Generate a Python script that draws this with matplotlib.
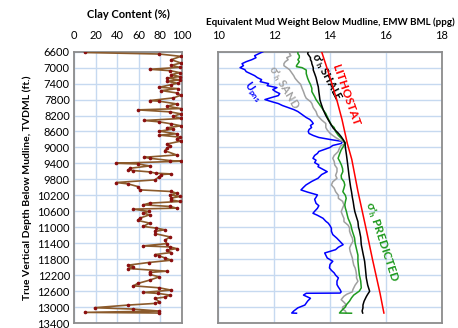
import matplotlib
matplotlib.use("Agg")
import matplotlib.pyplot as plt
import numpy as np

plt.rcParams['font.family'] = ['Lato', 'DejaVu Sans']
plt.rcParams['mathtext.default'] = 'regular'

# ---------------- data ----------------
clay_depth = [6620, 6658, 6717, 6800, 6883, 6942, 6992, 7041, 7075, 7125, 7175, 7225, 7258, 7308,
              7341, 7391, 7425, 7491, 7525, 7575, 7633, 7691, 7758, 7825, 7841, 7908, 7966, 8025,
              8058, 8108, 8158, 8216, 8274, 8324, 8358, 8408, 8458, 8508, 8541, 8591, 8658, 8691,
              8741, 8791, 8841, 8913, 8955, 9021, 9080, 9188, 9246, 9271, 9329, 9346, 9396, 9413,
              9463, 9521, 9563, 9579, 9613, 9646, 9663, 9679, 9729, 9813, 9879, 9913, 9979, 10063,
              10104, 10146, 10188, 10229, 10271, 10313, 10354, 10396, 10438, 10479, 10521, 10546,
              10604, 10646, 10688, 10771, 10829, 10896, 10979, 11021, 11063, 11104, 11160, 11243,
              11326, 11410, 11468, 11493, 11535, 11576, 11634, 11684, 11718, 11768, 11826, 11884,
              11951, 11984, 12034, 12101, 12134, 12184, 12243, 12326, 12409, 12468, 12518, 12576,
              12634, 12659, 12701, 12751, 12784, 12867, 12909, 12951, 13017, 13051, 13101, 13134, 13150]
clay_pct = [10, 79, 99, 90, 99, 90, 98, 70, 89, 98, 90, 98, 86, 98,
            86, 96, 90, 79, 96, 81, 95, 99, 92, 70, 79, 95, 86, 99,
            59, 89, 99, 92, 99, 65, 79, 90, 99, 86, 92, 79, 95, 79,
            98, 95, 99, 86, 89, 86, 84, 95, 65, 70, 89, 99, 39, 59,
            70, 52, 50, 55, 70, 76, 90, 81, 79, 75, 39, 50, 59, 61,
            90, 95, 89, 98, 90, 90, 98, 70, 64, 89, 95, 55,
            69, 64, 70, 61, 59, 70, 64, 76, 84, 75, 75, 89,
            84, 86, 64, 89, 95, 86, 90, 75, 79, 84, 90, 69,
            50, 55, 50, 86, 70, 70, 79, 70, 59, 55, 79, 90,
            64, 78, 89, 84, 75, 79, 75, 50, 19, 55, 79, 10, 79]

upns_depth = [6600, 6650, 6700, 6750, 6800, 6850, 6900, 6950, 7000, 7050, 7100, 7150, 7200, 7250,
              7300, 7350, 7400, 7450, 7500, 7550, 7600, 7650, 7700, 7750, 7800, 7850, 7900, 7950,
              8000, 8050, 8100, 8150, 8200, 8250, 8300, 8350, 8400, 8450, 8500, 8550, 8600, 8650,
              8700, 8750, 8800, 8850, 8900, 8950, 9000, 9050, 9100, 9150, 9200, 9272, 9320, 9380,
              9440, 9482, 9550, 9607, 9680, 9773, 9850, 9940, 10000, 10065, 10120, 10190, 10250,
              10300, 10400, 10460, 10525, 10600, 10650, 10700, 10775, 10850, 10900, 10960, 11025,
              11100, 11185, 11270, 11350, 11437, 11500, 11562, 11645, 11700, 11770, 11853, 11930,
              12020, 12080, 12145, 12200, 12270, 12350, 12437, 12500, 12562, 12620, 12650, 12655,
              12700, 12780, 12850, 12950, 13020, 13100, 13150, 13155]
upns_emw = [11.6, 11.45, 11.3, 11.35, 11.2, 11.0, 10.85, 10.9, 10.78, 10.95, 11.0, 11.15, 11.3, 11.4,
            11.55, 11.5, 11.8, 11.75, 12.1, 11.95, 12.05, 12.2, 12.15, 11.9, 11.67, 11.9, 12.15, 12.3,
            12.5, 12.7, 12.85, 12.95, 13.05, 13.15, 13.28, 13.35, 13.4, 13.3, 13.34, 13.25, 13.22, 13.25,
            13.4, 13.6, 14.0, 14.45, 14.4, 14.1, 14.0, 13.8, 13.6, 13.55, 13.45, 13.39, 13.5, 13.45,
            13.6, 13.57, 13.75, 13.9, 13.7, 13.57, 13.35, 13.14, 13.05, 12.96, 13.2, 13.55, 13.5,
            13.45, 13.5, 13.6, 13.55, 13.45, 13.39, 13.55, 13.75, 13.85, 13.94, 14.0, 14.05,
            14.05, 14.1, 14.24, 14.35, 14.47, 14.3, 14.2, 13.81, 13.85, 13.9, 14.1, 14.0,
            13.98, 14.05, 14.15, 14.2, 14.3, 14.25, 14.25, 14.3, 14.36, 14.4, 14.36, 13.15,
            13.05, 13.3, 13.2, 13.1, 12.85, 12.7, 12.63, 12.8]

sand_depth = [6600, 6650, 6700, 6750, 6800, 6850, 6900, 6950, 7000, 7050, 7100, 7150, 7200, 7267,
              7350, 7420, 7517, 7600, 7700, 7768, 7850, 7900, 8000, 8100, 8200, 8312, 8400, 8500,
              8562, 8645, 8700, 8750, 8813, 8870, 8900, 8950, 9000, 9105, 9200, 9272, 9350, 9440,
              9520, 9607, 9700, 9773, 9860, 9940, 10020, 10108, 10200, 10275, 10350, 10441, 10520,
              10610, 10700, 10780, 10860, 10950, 11018, 11100, 11200, 11270, 11353, 11440, 11520,
              11600, 11687, 11770, 11853, 11950, 12020, 12103, 12200, 12270, 12354, 12450, 12562,
              12620, 12680, 12728, 12770, 12815, 12880, 12940, 13000, 13050, 13100, 13150]
sand_emw = [12.6, 12.55, 12.6, 12.45, 12.5, 12.4, 12.35, 12.35, 12.45, 12.55, 12.6, 12.65, 12.7, 12.75,
            12.85, 12.95, 13.0, 13.05, 13.1, 13.15, 13.3, 13.35, 13.4, 13.5, 13.55, 13.7, 13.85, 13.85,
            13.9, 14.0, 14.1, 14.2, 14.35, 14.5, 14.55, 14.4, 14.35, 14.29, 14.15, 14.1, 14.15, 14.17,
            14.25, 14.25, 14.2, 14.25, 14.1, 14.05, 14.15, 14.2, 14.3, 14.3, 14.45, 14.5, 14.45,
            14.4, 14.45, 14.5, 14.5, 14.65, 14.7, 14.7, 14.75, 14.8, 14.82, 14.75, 14.7,
            14.72, 14.76, 14.8, 14.82, 14.85, 14.9, 14.93, 14.95, 14.95, 15.0, 14.9, 14.82,
            14.8, 14.6, 14.5, 14.45, 14.4, 14.5, 14.58, 14.45, 14.45, 14.55, 14.58]

pred_depth = [6600, 6650, 6700, 6750, 6800, 6850, 6900, 6950, 6975, 7000, 7060, 7150, 7267, 7350,
              7420, 7517, 7600, 7727, 7800, 7900, 8000, 8061, 8150, 8228, 8300, 8437, 8500, 8600,
              8700, 8800, 8880, 8950, 9063, 9150, 9272, 9350, 9440, 9530, 9607, 9700, 9773, 9860,
              9940, 10020, 10108, 10200, 10275, 10360, 10441, 10520, 10610, 10700, 10780, 10860,
              10950, 11018, 11100, 11270, 11400, 11520, 11700, 11853, 12000, 12187, 12350, 12520,
              12600, 12650, 12700, 12770, 12850, 12940, 13000, 13050, 13100, 13150, 13155]
pred_emw = [12.85, 12.85, 12.9, 12.9, 12.85, 12.9, 12.85, 12.8, 12.8, 13.0, 13.15, 13.15, 13.2, 13.25,
            13.3, 13.35, 13.35, 13.45, 13.5, 13.6, 13.7, 13.76, 13.85, 13.9, 13.95, 14.05, 14.15, 14.2,
            14.3, 14.45, 14.55, 14.5, 14.4, 14.35, 14.29, 14.35, 14.41, 14.45, 14.46, 14.4, 14.41, 14.5,
            14.53, 14.5, 14.46, 14.55, 14.58, 14.55, 14.53, 14.55, 14.59, 14.62, 14.65, 14.7,
            14.75, 14.77, 14.8, 14.88, 14.9, 14.94, 15.0, 15.0, 15.02, 15.05, 15.1, 15.12,
            15.05, 14.95, 14.85, 14.77, 14.7, 14.59, 14.55, 14.47, 14.4, 14.34, 14.77]

shale_depth = [6600, 6650, 6700, 6750, 6800, 6850, 6900, 7000, 7057, 7150, 7250, 7309, 7400, 7477,
               7600, 7700, 7810, 7900, 8061, 8200, 8312, 8420, 8520, 8645, 8730, 8813, 8896, 9000,
               9189, 9350, 9523, 9700, 9857, 10000, 10108, 10250, 10359, 10500, 10610, 10750, 10860,
               11000, 11068, 11250, 11437, 11650, 11853, 12050, 12270, 12450, 12605, 12680, 12740,
               12855, 12950, 13022, 13100, 13150]
shale_emw = [13.22, 13.2, 13.25, 13.3, 13.3, 13.34, 13.35, 13.4, 13.4, 13.45, 13.5, 13.52, 13.55, 13.58,
             13.6, 13.62, 13.64, 13.68, 13.76, 13.85, 13.94, 14.03, 14.12, 14.3, 14.4, 14.48, 14.54, 14.55,
             14.59, 14.62, 14.65, 14.68, 14.71, 14.74, 14.77, 14.8, 14.83, 14.86, 14.89, 14.95, 15.0,
             15.02, 15.05, 15.1, 15.12, 15.18, 15.24, 15.27, 15.3, 15.35, 15.42, 15.35, 15.3,
             15.22, 15.18, 15.18, 15.15, 15.17]

litho_depth = [6600, 7200, 7800, 8300, 8900, 9300, 10100, 11000, 11800, 12650, 13150]
litho_emw = [13.70, 13.98, 14.24, 14.43, 14.62, 14.78, 15.0, 15.28, 15.52, 15.79, 15.93]

clay_ticks = [0, 20, 40, 60, 80, 100]
emw_ticks = [10, 12, 14, 16, 18]
depth_ticks = list(range(6600, 13401, 400))

# ---------------- figure ----------------
fig = plt.figure(figsize=(4.58, 3.28), dpi=100)
W, H = 458, 328
def rect(x0, y0, x1, y1):
    return [x0 / W, 1 - y1 / H, (x1 - x0) / W, (y1 - y0) / H]

ax1 = fig.add_axes(rect(74, 51.7, 182, 323))
ax2 = fig.add_axes(rect(218.3, 51.7, 441.7, 323))

grid_c = '#c6d9f0'
spine_c = '#8c8c8c'
for ax in (ax1, ax2):
    ax.set_ylim(13400, 6600)
    ax.set_yticks(depth_ticks)
    ax.xaxis.tick_top()
    ax.grid(True, color=grid_c, linewidth=1.0)
    ax.set_axisbelow(True)
    ax.tick_params(axis='both', length=0, labelsize=8, colors='black')
    ax.tick_params(axis='x', pad=8)
    ax.tick_params(axis='y', pad=3)
    for s in ax.spines.values():
        s.set_color(spine_c)
        s.set_linewidth(1.3)

ax1.set_xlim(0, 100)
ax1.set_xticks(clay_ticks)
ax1.plot(clay_pct, clay_depth, color='#8b5a2b', linewidth=1.2, marker='o',
         markersize=1.6, markerfacecolor='#8b1010', markeredgecolor='#8b1010', zorder=3)
ax1.set_ylabel('True Vertical Depth Below Mudline, TVDML (ft.)', fontsize=7.5,
               fontweight='bold', labelpad=4)
ax1.set_title('Clay Content (%)', fontsize=8, fontweight='bold', pad=8)

ax2.set_xlim(10, 18)
ax2.set_xticks(emw_ticks)
ax2.tick_params(axis='y', labelleft=False)
ax2.plot(upns_emw, upns_depth, color='#0000ff', linewidth=1.1, zorder=3)
ax2.plot(sand_emw, sand_depth, color='#a0a0a0', linewidth=1.1, zorder=3)
ax2.plot(pred_emw, pred_depth, color='#1f9a1f', linewidth=1.1, zorder=4)
ax2.plot(shale_emw, shale_depth, color='#000000', linewidth=1.1, zorder=5)
ax2.plot(litho_emw, litho_depth, color='#ff0000', linewidth=1.1, zorder=6)
ax2.set_title('Equivalent Mud Weight Below Mudline, EMW BML (ppg)', fontsize=7,
              fontweight='bold', pad=3)

def pix(x, y):
    return ax2.transData.inverted().transform(fig.transFigure.transform((x / W, 1 - y / H)))

kw = dict(fontweight='bold', ha='center', va='center', rotation_mode='anchor')
ax2.text(*pix(326, 77), "σ'$_h$ SHALE", color='black', rotation=-62, fontsize=8, **kw)
ax2.text(*pix(346, 95), 'LITHOSTAT', color='red', rotation=-71, fontsize=8.5, **kw)
ax2.text(*pix(284, 87), "σ'$_h$ SAND", color='#a0a0a0', rotation=-59, fontsize=8, **kw)
ax2.text(*pix(252, 92), 'U$_{pns}$', color='#0000ff', rotation=-55, fontsize=8, **kw)
ax2.text(*pix(381, 242), "σ'$_h$ PREDICTED", color='#1f9a1f', rotation=-72, fontsize=8.5, **kw)

fig.savefig('out.png', dpi=100)
